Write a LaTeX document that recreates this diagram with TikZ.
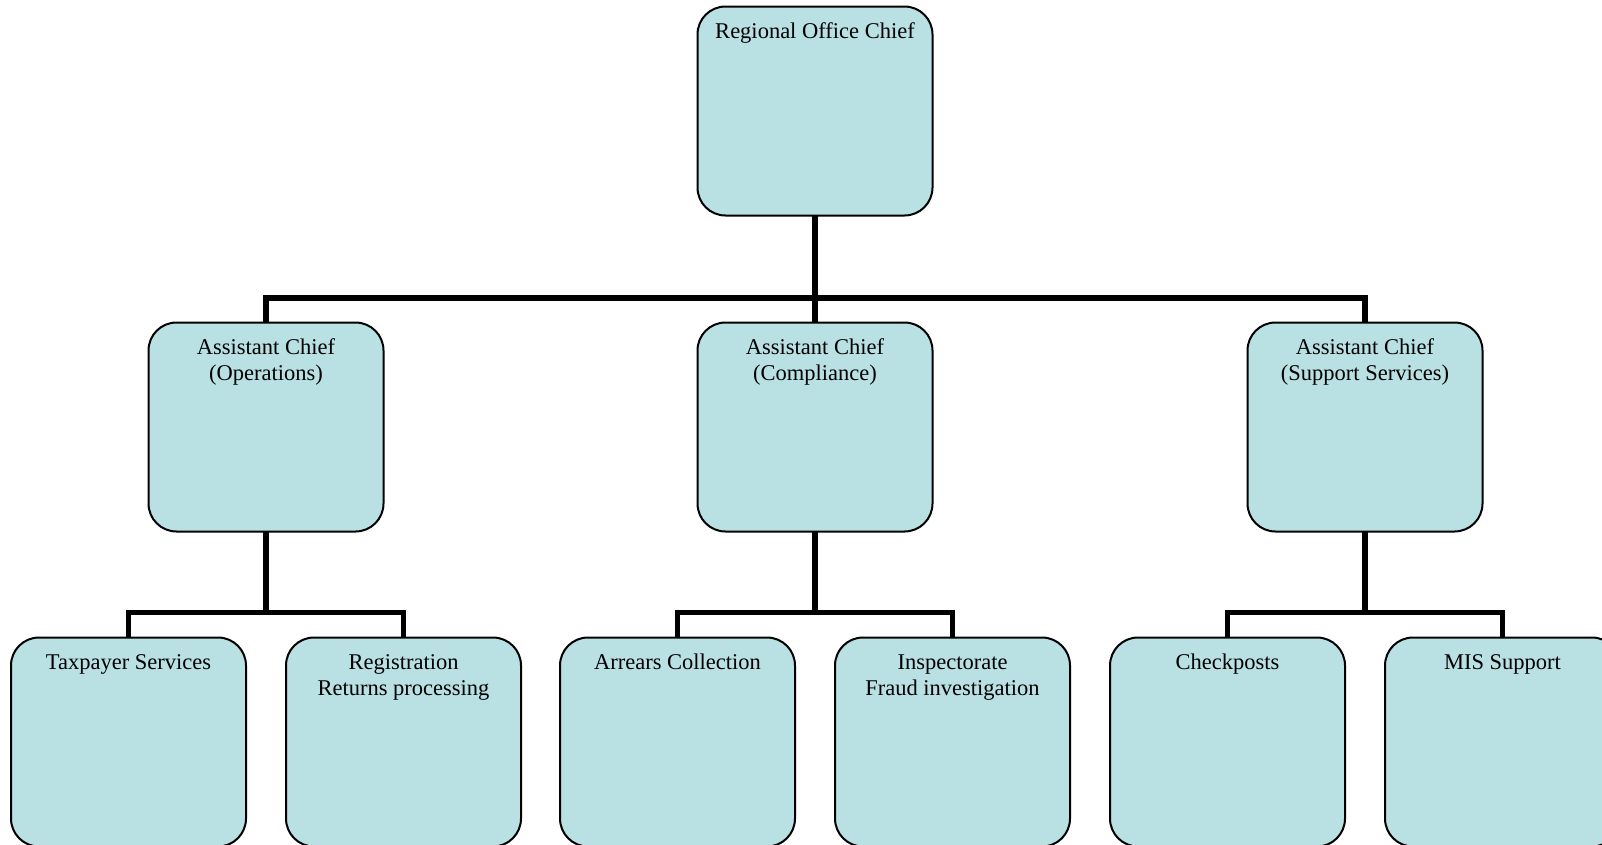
\documentclass[tikz,border=0pt]{standalone}
\usepackage{fontspec}
\setmainfont{Liberation Serif}
\definecolor{boxfill}{RGB}{185,224,227}
\newcommand\orgtext[1]{\parbox[t][209pt][t]{235pt}{\centering\rule{0pt}{31.5pt}#1}}
\begin{document}
\begin{tikzpicture}[x=1pt,y=-1pt,
  orgbox/.style={draw=black, line width=2pt, fill=boxfill, rounded corners=28pt,
    inner sep=0pt, outer sep=0pt, anchor=north, font=\fontsize{22.5}{26.5}\selectfont},
  conn/.style={draw=black, line width=5.3pt, line join=miter}]
\useasboundingbox (0,0) rectangle (1602,844);
\clip (0,0) rectangle (1602,844);

\node[orgbox] (top) at (815,6.5) {\orgtext{Regional Office Chief}};

\node[orgbox] (ops)  at (266,322.5)  {\orgtext{Assistant Chief\\(Operations)}};
\node[orgbox] (comp) at (815,322.5)  {\orgtext{Assistant Chief\\(Compliance)}};
\node[orgbox] (sup)  at (1365,322.5) {\orgtext{Assistant Chief\\(Support Services)}};

\node[orgbox] (tax)  at (128.5,637.5)  {\orgtext{Taxpayer Services}};
\node[orgbox] (reg)  at (403.5,637.5)  {\orgtext{Registration\\Returns processing}};
\node[orgbox] (arr)  at (677.5,637.5)  {\orgtext{Arrears Collection}};
\node[orgbox] (insp) at (952.5,637.5)  {\orgtext{Inspectorate\\Fraud investigation}};
\node[orgbox] (chk)  at (1227.5,637.5) {\orgtext{Checkposts}};
\node[orgbox] (mis)  at (1502.5,637.5) {\orgtext{MIS Support}};

\coordinate (j1) at (815,298);
\coordinate (j2) at (266,612.8);
\coordinate (j3) at (815,612.8);
\coordinate (j4) at (1365,612.8);

\draw[conn] (top.south) -- (comp.north);
\draw[conn] (ops.north) |- (j1) -| (sup.north);

\draw[conn] (ops.south) -- (j2);
\draw[conn] (tax.north) |- (j2) -| (reg.north);

\draw[conn] (comp.south) -- (j3);
\draw[conn] (arr.north) |- (j3) -| (insp.north);

\draw[conn] (sup.south) -- (j4);
\draw[conn] (chk.north) |- (j4) -| (mis.north);
\end{tikzpicture}
\end{document}
